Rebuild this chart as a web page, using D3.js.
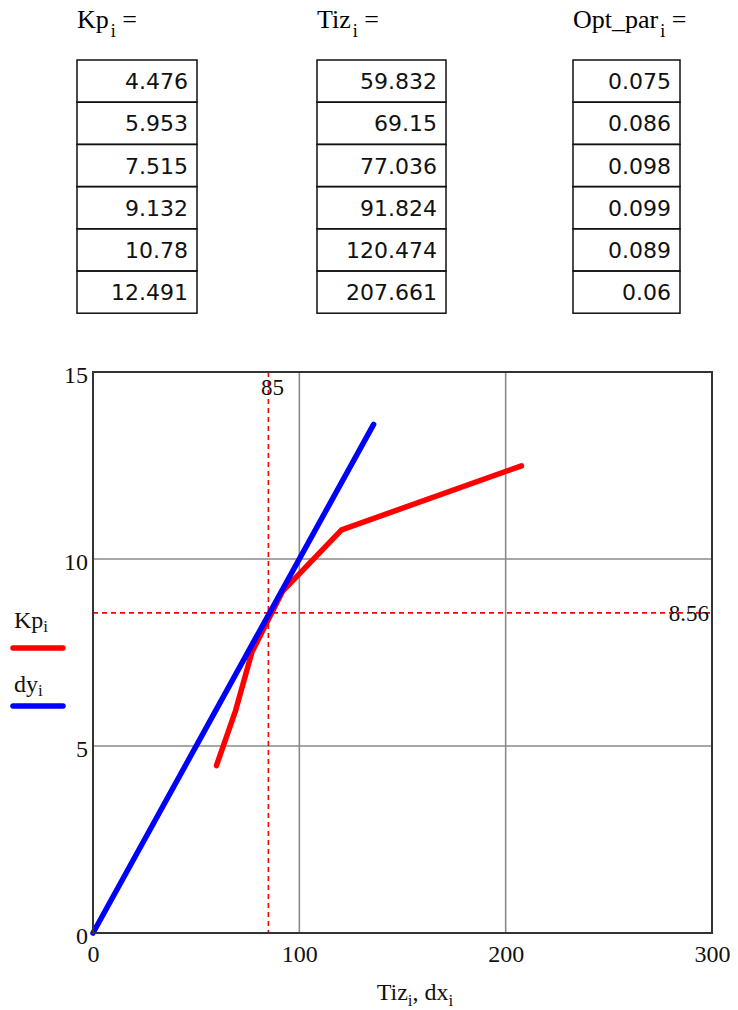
<!DOCTYPE html>
<html>
<head>
<meta charset="utf-8">
<script src="https://cdn.jsdelivr.net/npm/d3@7"></script>
<style>
  html, body { margin: 0; padding: 0; background: #fff; }
  svg { display: block; }
</style>
</head>
<body>
<svg id="chart" width="738" height="1010"></svg>
<script>
// Controller tuning results per step i
const Kp = [4.476, 5.953, 7.515, 9.132, 10.78, 12.491];
const Tiz = [59.832, 69.15, 77.036, 91.824, 120.474, 207.661];
const OptPar = [0.075, 0.086, 0.098, 0.099, 0.089, 0.06];

// Tangent line through the origin
const dx = [0, 136];
const dy = [0, 13.6];

// Marker lines
const markX = 85;
const markY = 8.56;

const xTicks = [0, 100, 200, 300];
const yTicks = [0, 5, 10, 15];

const serif = "'Liberation Serif', 'Times New Roman', serif";
const sans = "'DejaVu Sans', Verdana, sans-serif";

const svg = d3.select("#chart");

// ---------- Tables ----------
const tables = [
  { name: "Kp", values: Kp, left: 77, width: 120 },
  { name: "Tiz", values: Tiz, left: 317, width: 129 },
  { name: "Opt_par", values: OptPar, left: 573, width: 107 }
];
const rowTop = 60, rowH = 42.2;

tables.forEach(t => {
  const g = svg.append("g");
  const head = g.append("text")
    .attr("x", t.left)
    .attr("y", 28)
    .attr("font-family", serif)
    .attr("font-size", 26)
    .attr("fill", "#000");
  head.append("tspan").text(t.name);
  head.append("tspan").attr("font-size", 18).attr("dx", 2).attr("dy", 9).text("i");
  head.append("tspan").attr("dy", -9).text(" =");

  const rows = g.selectAll("g.row").data(t.values).enter().append("g").attr("class", "row");
  rows.append("rect")
    .attr("x", t.left)
    .attr("y", (d, i) => rowTop + i * rowH)
    .attr("width", t.width)
    .attr("height", rowH)
    .attr("fill", "none")
    .attr("stroke", "#111")
    .attr("stroke-width", 1.5);
  rows.append("text")
    .attr("x", t.left + t.width - 9)
    .attr("y", (d, i) => rowTop + i * rowH + rowH / 2 + 8)
    .attr("text-anchor", "end")
    .attr("font-family", sans)
    .attr("font-size", 22)
    .attr("fill", "#111")
    .text(d => String(d));
});

// ---------- Plot ----------
const x = d3.scaleLinear().domain([0, 300]).range([93, 712]);
const y = d3.scaleLinear().domain([0, 15]).range([933, 372]);

// grid
const grid = svg.append("g");
grid.selectAll("line.gx").data(xTicks.slice(1, -1)).enter().append("line")
  .attr("x1", d => x(d)).attr("x2", d => x(d))
  .attr("y1", y(15)).attr("y2", y(0))
  .attr("stroke", "#8a8a8a").attr("stroke-width", 1.6);
grid.selectAll("line.gy").data(yTicks.slice(1, -1)).enter().append("line")
  .attr("y1", d => y(d)).attr("y2", d => y(d))
  .attr("x1", x(0)).attr("x2", x(300))
  .attr("stroke", "#8a8a8a").attr("stroke-width", 1.6);

// marker dashed lines
svg.append("line")
  .attr("x1", x(markX)).attr("x2", x(markX))
  .attr("y1", y(15)).attr("y2", y(0))
  .attr("stroke", "#ff0000").attr("stroke-width", 1.6)
  .attr("stroke-dasharray", "5,4");
svg.append("line")
  .attr("x1", x(0)).attr("x2", x(300))
  .attr("y1", y(markY)).attr("y2", y(markY))
  .attr("stroke", "#ff0000").attr("stroke-width", 1.6)
  .attr("stroke-dasharray", "5,4");

// data lines
const line = d3.line().x(d => x(d[0])).y(d => y(d[1]));
svg.append("path")
  .datum(Tiz.map((t, i) => [t, Kp[i]]))
  .attr("d", line)
  .attr("fill", "none")
  .attr("stroke", "#ff0000")
  .attr("stroke-width", 5.5)
  .attr("stroke-linejoin", "round")
  .attr("stroke-linecap", "round");
svg.append("path")
  .datum(dx.map((v, i) => [v, dy[i]]))
  .attr("d", line)
  .attr("fill", "none")
  .attr("stroke", "#0000ff")
  .attr("stroke-width", 5.5)
  .attr("stroke-linecap", "round");

// frame
svg.append("rect")
  .attr("x", x(0)).attr("y", y(15))
  .attr("width", x(300) - x(0)).attr("height", y(0) - y(15))
  .attr("fill", "none").attr("stroke", "#333").attr("stroke-width", 2);

// axes labels
const xAxis = d3.axisBottom(x).tickValues(xTicks).tickSize(0).tickPadding(12)
  .tickFormat(d3.format("d"));
const gx = svg.append("g").attr("transform", `translate(0,${y(0)})`).call(xAxis);
gx.select(".domain").remove();
gx.selectAll("text").attr("font-family", serif).attr("font-size", 24).attr("fill", "#111");

const yAxis = d3.axisLeft(y).tickValues(yTicks).tickSize(0).tickPadding(5)
  .tickFormat(d3.format("d"));
const gy = svg.append("g").attr("transform", `translate(${x(0)},0)`).call(yAxis);
gy.select(".domain").remove();
gy.selectAll("text").attr("font-family", serif).attr("font-size", 24).attr("fill", "#111")
  .attr("dy", "0.42em");

// marker value labels
svg.append("text")
  .attr("x", x(markX) + 4).attr("y", y(15) + 23)
  .attr("text-anchor", "middle")
  .attr("font-family", serif).attr("font-size", 23).attr("fill", "#111")
  .text(markX);
svg.append("text")
  .attr("x", x(300) - 3).attr("y", y(markY) + 8)
  .attr("text-anchor", "end")
  .attr("font-family", serif).attr("font-size", 23).attr("fill", "#111")
  .text(markY);

// x axis title
const xt = svg.append("text")
  .attr("x", 415).attr("y", 1000)
  .attr("text-anchor", "middle")
  .attr("font-family", serif).attr("font-size", 24).attr("fill", "#111");
xt.append("tspan").text("Tiz");
xt.append("tspan").attr("font-size", 17).attr("dy", 6).text("i");
xt.append("tspan").attr("dy", -6).text(", dx");
xt.append("tspan").attr("font-size", 17).attr("dy", 6).text("i");

// legend
const legend = [
  { label: "Kp", color: "#ff0000", ty: 628, ly: 648 },
  { label: "dy", color: "#0000ff", ty: 692, ly: 706 }
];
legend.forEach(l => {
  const t = svg.append("text")
    .attr("x", 14).attr("y", l.ty)
    .attr("font-family", serif).attr("font-size", 24).attr("fill", "#111");
  t.append("tspan").text(l.label);
  t.append("tspan").attr("font-size", 17).attr("dy", 4).text("i");
  svg.append("line")
    .attr("x1", 13).attr("x2", 63)
    .attr("y1", l.ly).attr("y2", l.ly)
    .attr("stroke", l.color).attr("stroke-width", 5.5)
    .attr("stroke-linecap", "round");
});
</script>
</body>
</html>
